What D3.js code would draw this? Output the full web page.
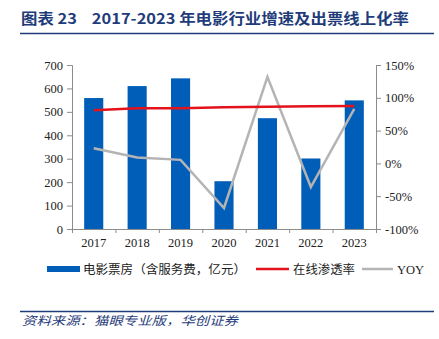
<!DOCTYPE html>
<html><head><meta charset="utf-8">
<script src="https://cdn.jsdelivr.net/npm/d3@7"></script>
<style>body{margin:0;background:#fff}svg{display:block}</style>
</head><body>
<svg id="c" width="439" height="339"></svg>
<script>
const years = ["2017","2018","2019","2020","2021","2022","2023"];
const boxOffice = [559, 610, 643, 204, 473, 301, 549];
const onlineRate = [81, 84, 84, 85.5, 86.5, 87, 87.5];
const yoy = [23, 9, 5.4, -68, 132, -36, 83];
const leftTicks = [0,100,200,300,400,500,600,700];
const rightTicks = [-100,-50,0,50,100,150];
const legendLabels = ["电影票房（含服务费，亿元）","在线渗透率","YOY"];
const titleText = "图表 23\u00a0\u00a0\u00a0 2017-2023 年电影行业增速及出票线上化率";
const sourceText = "资料来源：猫眼专业版，华创证券";

const svg = d3.select("#c");
const navy = "#1F3C7A";
const blue = "#005EB8", red = "#E3121B", gray = "#B4B4B4", axisC = "#8C8C8C";
const numFont = "'Liberation Serif','Times New Roman',serif";
const cjkFont = "'Noto Sans CJK SC','Noto Sans',sans-serif";

// Title
svg.append("text").attr("x",21).attr("y",24).attr("fill",navy)
  .attr("font-family",cjkFont).attr("font-weight","bold").attr("font-size",14.5)
  .attr("textLength",388).attr("lengthAdjust","spacingAndGlyphs")
  .text(titleText);
svg.append("line").attr("x1",20).attr("x2",434).attr("y1",33.5).attr("y2",33.5)
  .attr("stroke",navy).attr("stroke-width",1.5);

const L = 72, R = 376, T = 65, B = 229;
const x = d3.scaleBand().domain(years).range([L,R]).paddingInner(0.56).paddingOuter(0.28);
const yL = d3.scaleLinear().domain([0,700]).range([B,T]);
const yR = d3.scaleLinear().domain([-100,150]).range([B,T]);

// bars
svg.append("g").selectAll("rect").data(boxOffice).join("rect")
  .attr("x",(d,i)=>x(years[i])).attr("width",x.bandwidth())
  .attr("y",d=>yL(d)).attr("height",d=>B-yL(d)).attr("fill",blue);

// axes
const axL = svg.append("g").attr("transform",`translate(${L},0)`)
  .call(d3.axisLeft(yL).tickValues(leftTicks).tickSize(5).tickPadding(4));
const axR = svg.append("g").attr("transform",`translate(${R},0)`)
  .call(d3.axisRight(yR).tickValues(rightTicks).tickSize(5).tickPadding(4).tickFormat(d=>d+"%"));
const xb = d3.scaleLinear().domain([0,7]).range([L,R]);
const axX = svg.append("g").attr("transform",`translate(0,${B})`)
  .call(d3.axisBottom(xb).tickValues(d3.range(0,8)).tickSize(4).tickFormat(""));
svg.append("g").selectAll("text").data(years).join("text")
  .attr("x",d=>x(d)+x.bandwidth()/2).attr("y",247).attr("text-anchor","middle")
  .attr("font-family",numFont).attr("font-size",12.5).attr("fill","#222").text(d=>d);
[axL,axR,axX].forEach(a=>{
  a.selectAll("path,line").attr("stroke",axisC);
  a.selectAll("text").attr("font-family",numFont).attr("font-size",12.5).attr("fill","#222");
});
axX.select("path").attr("d",`M${L},0.5H${R}`);

// lines
const cx = (d,i)=>x(years[i])+x.bandwidth()/2;
svg.append("path").datum(yoy).attr("fill","none").attr("stroke",gray).attr("stroke-width",2.5)
  .attr("d",d3.line().x(cx).y(d=>yR(d)));
svg.append("path").datum(onlineRate).attr("fill","none").attr("stroke",red).attr("stroke-width",2.5)
  .attr("d",d3.line().x(cx).y(d=>yR(d)));

// legend
const ly = 269;
svg.append("rect").attr("x",47).attr("y",ly-3).attr("width",33).attr("height",6).attr("fill",blue);
svg.append("text").attr("x",83).attr("y",ly+4.5).attr("font-family",cjkFont).attr("font-size",12)
  .attr("fill","#222").attr("textLength",163).attr("lengthAdjust","spacingAndGlyphs").text(legendLabels[0]);
svg.append("line").attr("x1",256).attr("x2",289).attr("y1",ly).attr("y2",ly).attr("stroke",red).attr("stroke-width",2.5);
svg.append("text").attr("x",293).attr("y",ly+4.5).attr("font-family",cjkFont).attr("font-size",12)
  .attr("fill","#222").attr("textLength",62).attr("lengthAdjust","spacingAndGlyphs").text(legendLabels[1]);
svg.append("line").attr("x1",362).attr("x2",393).attr("y1",ly).attr("y2",ly).attr("stroke",gray).attr("stroke-width",2.5);
svg.append("text").attr("x",397).attr("y",ly+4.5).attr("font-family",numFont).attr("font-size",12.5)
  .attr("fill","#222").text(legendLabels[2]);

// footer
svg.append("line").attr("x1",20).attr("x2",434).attr("y1",311.5).attr("y2",311.5)
  .attr("stroke",navy).attr("stroke-width",1.5);
svg.append("text").attr("x",22).attr("y",325).attr("fill",navy).attr("font-family",cjkFont)
  .attr("font-size",12).attr("font-style","italic").attr("textLength",216)
  .attr("lengthAdjust","spacingAndGlyphs").text(sourceText);
</script>
</body></html>
